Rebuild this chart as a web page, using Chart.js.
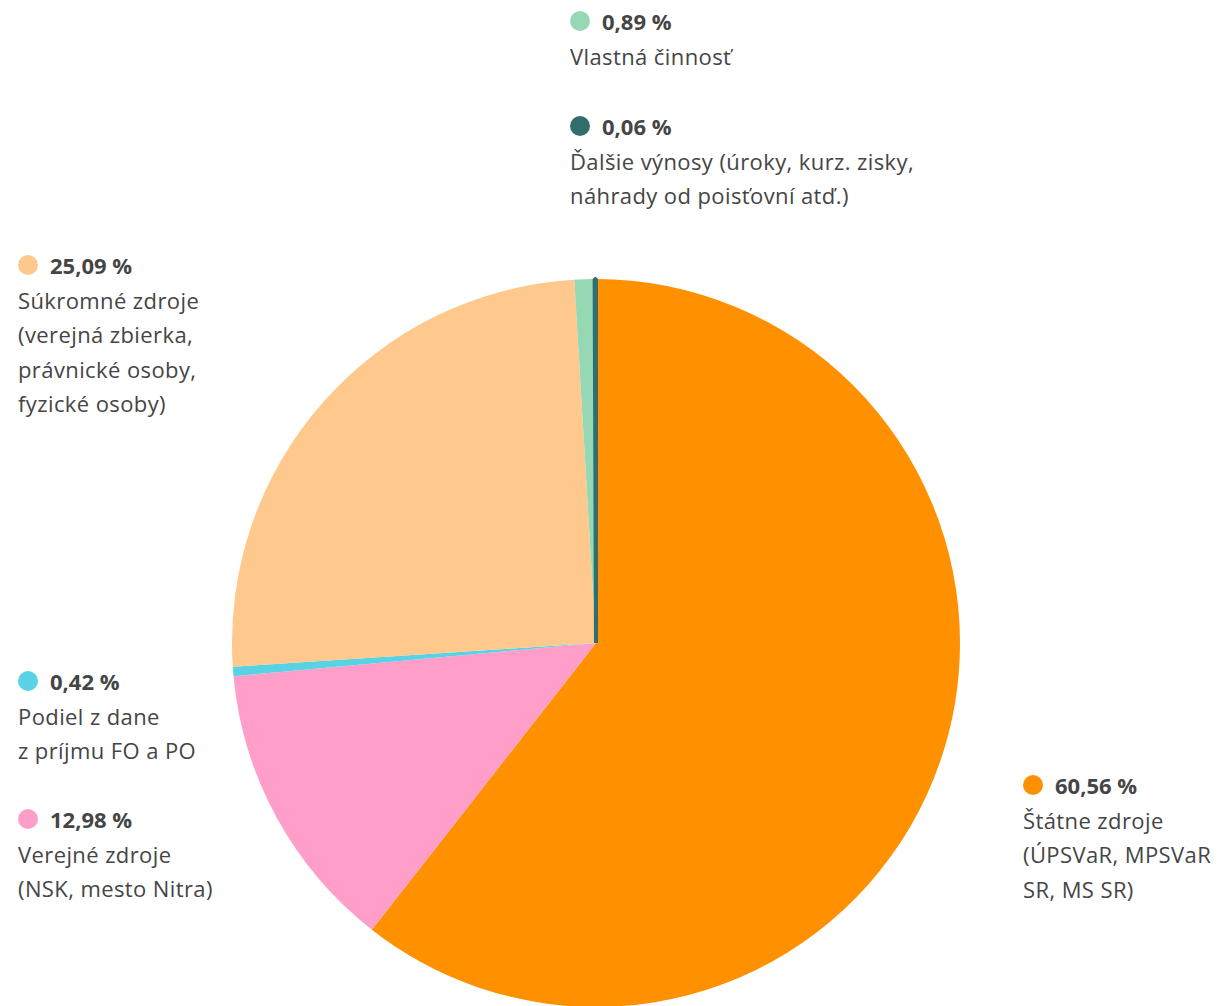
<!DOCTYPE html>
<html>
<head>
<meta charset="utf-8">
<script src="https://cdn.jsdelivr.net/npm/chart.js@4"></script>
<style>
  html, body { margin: 0; padding: 0; background: #fff; overflow: hidden; }
  body { width: 1227px; height: 1006px; position: relative; font-family: "Open Sans", Lato, sans-serif; color: #454545; }
  #pie { position: absolute; left: 230px; top: 277px; }
  .lbl { position: absolute; font-size: 22px; line-height: 34.5px; letter-spacing: 0.4px; white-space: nowrap; }
  .lbl .val { font-weight: bold; display: flex; align-items: center; letter-spacing: 0; }
  .lbl .dot { width: 20px; height: 20px; border-radius: 50%; margin-right: 12px; margin-left: 0; }
</style>
</head>
<body>
<canvas id="pie" width="732" height="732"></canvas>
<script>
// data, clockwise from 12 o'clock
const labels = [
  ["Štátne zdroje", "(ÚPSVaR, MPSVaR", "SR, MS SR)"],
  ["Verejné zdroje", "(NSK, mesto Nitra)"],
  ["Podiel z dane", "z príjmu FO a PO"],
  ["Súkromné zdroje", "(verejná zbierka,", "právnické osoby,", "fyzické osoby)"],
  ["Vlastná činnosť"],
  ["Ďalšie výnosy (úroky, kurz. zisky,", "náhrady od poisťovní atď.)"]
];
const values = [60.56, 12.98, 0.42, 25.09, 0.89, 0.06];
const colors = ["#FF9100", "#FF9EC8", "#5AD2E6", "#FFC88C", "#96D7B4", "#326E6E"];

// where each label block sits (left, top)
const labelPos = [[1023, 768], [18, 802], [18, 664], [18, 248], [570, 4], [570, 109]];

const fmt = v => v.toFixed(2).replace(".", ",") + " %";

labels.forEach((lines, i) => {
  const d = document.createElement("div");
  d.className = "lbl";
  d.style.left = labelPos[i][0] + "px";
  d.style.top = labelPos[i][1] + "px";
  d.innerHTML = `<div class="val"><span class="dot" style="background:${colors[i]}"></span>${fmt(values[i])}</div>` +
    lines.map(l => `<div>${l}</div>`).join("");
  document.body.appendChild(d);
});

new Chart(document.getElementById("pie").getContext("2d"), {
  type: "pie",
  data: {
    labels: labels.map(l => l[0]),
    datasets: [{
      data: values,
      backgroundColor: colors,
      borderColor: colors,
      borderWidth: [0, 0, 0, 0, 0, 4]
    }]
  },
  options: {
    responsive: false,
    animation: false,
    layout: { padding: 0 },
    plugins: {
      legend: { display: false },
      tooltip: { enabled: false }
    }
  }
});
</script>
</body>
</html>
